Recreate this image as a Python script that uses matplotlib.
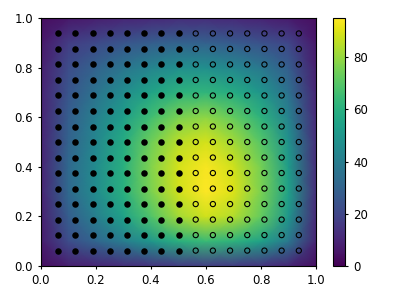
import numpy as np
import matplotlib
matplotlib.use("Agg")
import matplotlib.pyplot as plt

# field values, on a 0.1 grid (rows: y = 0.0 .. 1.0)
grid_x = [0.0, 0.1, 0.2, 0.3, 0.4, 0.5, 0.6, 0.7, 0.8, 0.9, 1.0]
grid_y = [0.0, 0.1, 0.2, 0.3, 0.4, 0.5, 0.6, 0.7, 0.8, 0.9, 1.0]
field = [
    [3, 8, 10, 12, 14, 16, 17, 16, 14, 10, 3],
    [7, 22, 31, 40, 50, 60, 64, 61, 54, 38, 9],
    [8, 28, 41, 54, 69, 82, 88, 84, 72, 50, 11],
    [9, 32, 46, 60, 76, 88, 95, 90, 76, 54, 12],
    [9, 32, 46, 60, 77, 89, 94, 88, 75, 52, 12],
    [9, 30, 44, 58, 74, 85, 89, 82, 70, 48, 12],
    [9, 28, 41, 53, 66, 76, 79, 72, 61, 42, 11],
    [9, 25, 36, 46, 55, 61, 62, 58, 50, 35, 10],
    [8, 22, 30, 37, 43, 47, 47, 44, 38, 28, 8],
    [6, 17, 21, 25, 28, 30, 29, 27, 24, 20, 6],
    [3, 6, 8, 10, 11, 12, 12, 11, 9, 7, 3],
]

# sample points
pts_x = [0.0625, 0.125, 0.1875, 0.25, 0.3125, 0.375, 0.4375, 0.5,
         0.5625, 0.625, 0.6875, 0.75, 0.8125, 0.875, 0.9375]
pts_y = [0.0625, 0.125, 0.1875, 0.25, 0.3125, 0.375, 0.4375, 0.5,
         0.5625, 0.625, 0.6875, 0.75, 0.8125, 0.875, 0.9375]

plt.rcParams['font.size'] = 8.5

fig = plt.figure(figsize=(3.98, 2.99), dpi=100)
ax = fig.add_axes([0.103, 0.110, 0.691, 0.830])
cax = fig.add_axes([0.837, 0.110, 0.030, 0.830])

X, Y = np.meshgrid(grid_x, grid_y)
mesh = ax.pcolormesh(X, Y, np.array(field, dtype=float), shading='gouraud',
                     cmap='viridis', vmin=0, vmax=95)

PX, PY = np.meshgrid(pts_x, pts_y)
PX = PX.ravel()
PY = PY.ravel()
inside = PX <= 0.5
ax.scatter(PX[inside], PY[inside], s=22, c='black', linewidths=0)
ax.scatter(PX[~inside], PY[~inside], s=14, facecolors='none',
           edgecolors='black', linewidths=0.8)

ax.set_xlim(0, 1)
ax.set_ylim(0, 1)
ax.set_xticks([0.0, 0.2, 0.4, 0.6, 0.8, 1.0])
ax.set_yticks([0.0, 0.2, 0.4, 0.6, 0.8, 1.0])
ax.tick_params(length=2.2)

cb = fig.colorbar(mesh, cax=cax)
cb.set_ticks([0, 20, 40, 60, 80])
cb.ax.tick_params(length=2.2)
cb.outline.set_linewidth(0.8)

fig.savefig("out.png", dpi=100)
